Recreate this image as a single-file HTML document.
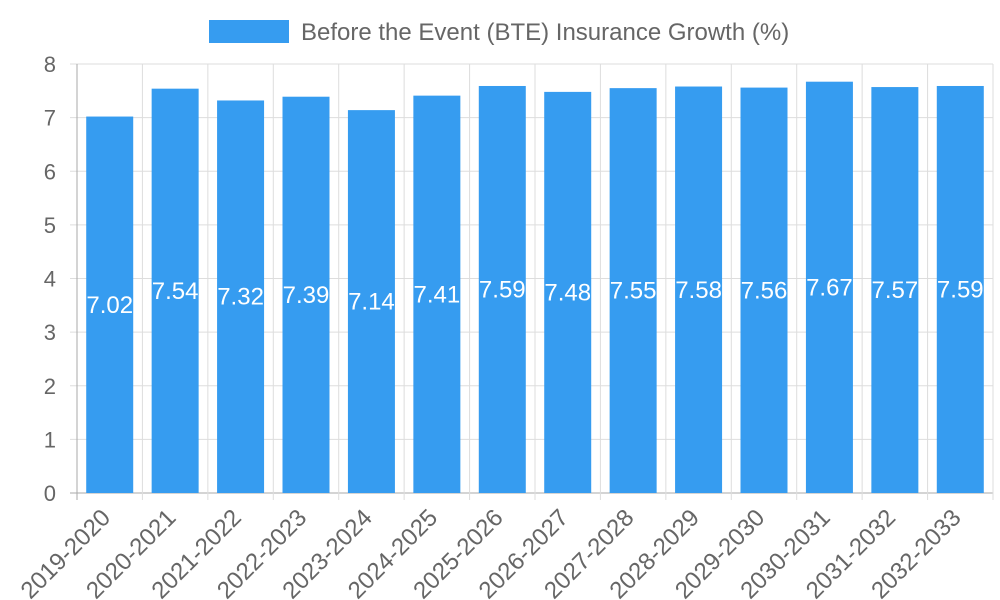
<!DOCTYPE html>
<html><head><meta charset="utf-8"><style>
body{margin:0;background:#fff;}
svg{display:block;font-family:"Liberation Sans",sans-serif;}
</style></head><body>
<svg id="chart" width="1000" height="600">
<g>
<rect x="209" y="20" width="80" height="23" fill="#369cf0"></rect>
<text x="301" y="40" font-size="24" fill="#666">Before the Event (BTE) Insurance Growth (%)</text>
</g>
<g id="grid"></g><g id="bars"></g><g id="labels"></g>
</svg>
<script>
const categories=["2019-2020","2020-2021","2021-2022","2022-2023","2023-2024","2024-2025","2025-2026","2026-2027","2027-2028","2028-2029","2029-2030","2030-2031","2031-2032","2032-2033"];
const values=[7.02,7.54,7.32,7.39,7.14,7.41,7.59,7.48,7.55,7.58,7.56,7.67,7.57,7.59];
const yTicks=[0,1,2,3,4,5,6,7,8];
const NS="http://www.w3.org/2000/svg";
const L=77,R=993,T=64,B=493,yMax=8;
const step=(R-L)/categories.length;
const y=v=>B-(v/yMax)*(B-T);
const x=i=>L+i*step;
function mk(tag,attrs,parent){const e=document.createElementNS(NS,tag);for(const k in attrs)e.setAttribute(k,attrs[k]);parent.appendChild(e);return e;}
const grid=document.getElementById('grid'),bars=document.getElementById('bars'),labels=document.getElementById('labels');
yTicks.forEach(t=>{
 const ln=mk('line',{x1:70,x2:R,y1:y(t),y2:y(t),stroke:t===0?'#aaa':'#ddd','stroke-width':1},grid);
 
 
 const tx=mk('text',{x:56,y:y(t)+8,'text-anchor':'end','font-size':22,fill:'#666'},grid);
 tx.textContent=t;
 
 
});
for(let i=0;i<=categories.length;i++){
 const ln=mk('line',{x1:x(i),x2:x(i),y1:T,y2:B+7,stroke:i===0?'#aaa':'#ddd','stroke-width':1},grid);
 
 
}
categories.forEach((c,i)=>{
 const bw=47,cx=x(i)+step/2;
 const r=mk('rect',{x:cx-bw/2,y:y(values[i]),width:bw,height:B-y(values[i]),fill:'#369cf0'},bars);
 
 
 const vt=mk('text',{x:cx,y:(y(values[i])+B)/2+8,'text-anchor':'middle','font-size':24,fill:'#fff'},labels);
 vt.textContent=values[i].toFixed(2);
 
 
 const xt=mk('text',{x:0,y:0,'text-anchor':'end','font-size':24,fill:'#666',transform:`translate(${cx+2},${B+26}) rotate(-45)`},labels);
 xt.textContent=c;
 
 
});
</script>
</body></html>
